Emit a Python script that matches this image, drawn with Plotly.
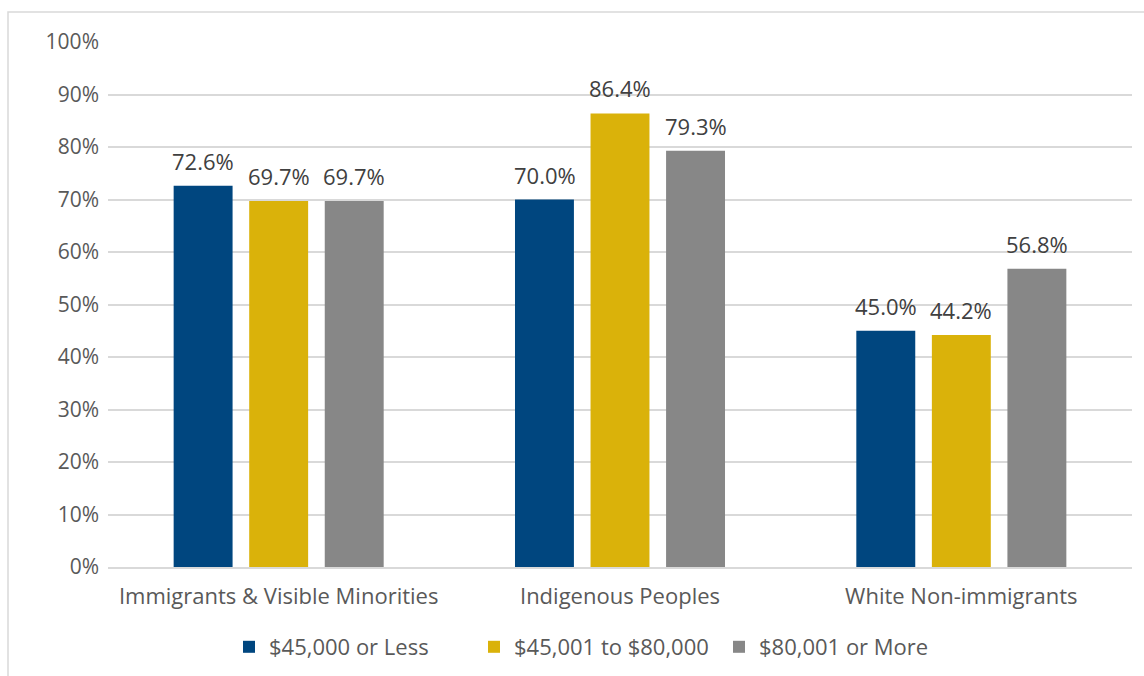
import plotly.graph_objects as go

categories = ["Immigrants & Visible Minorities", "Indigenous Peoples", "White Non-immigrants"]
series_names = ["$45,000 or Less", "$45,001 to $80,000", "$80,001 or More"]
low_income = [0.726, 0.700, 0.450]
mid_income = [0.697, 0.864, 0.442]
high_income = [0.697, 0.793, 0.568]
colors = ["#00467F", "#DAB20A", "#878787"]
tick_vals = [0, 0.1, 0.2, 0.3, 0.4, 0.5, 0.6, 0.7, 0.8, 0.9, 1.0]

FONT = "Open Sans, Noto Sans, sans-serif"

fig = go.Figure()
for name, vals, col in zip(series_names, [low_income, mid_income, high_income], colors):
    fig.add_trace(go.Bar(
        x=categories, y=vals, name=name,
        marker=dict(color=col, line=dict(width=0)),
        hoverinfo="skip",
    ))

# data labels placed through data coordinates
slot = 75.5
for i, vals in enumerate([low_income, mid_income, high_income]):
    for cat, v in zip(categories, vals):
        fig.add_annotation(x=cat, y=v, xref="x", yref="y", text=f"{v*100:.1f}%",
                           showarrow=False, xanchor="center", yanchor="bottom",
                           xshift=(i - 1) * slot, yshift=8,
                           font=dict(family=FONT, size=22, color="#404040"))

W, H = 1144, 676
ml, mr, mt, mb = 108, 12, 42, 109
pw, ph = W - ml - mr, H - mt - mb

def px_x(p):
    return (p - ml) / pw

def px_y(p):
    return (H - mb - p) / ph

fig.update_layout(
    width=W, height=H,
    margin=dict(l=ml, r=mr, t=mt, b=mb, pad=0),
    paper_bgcolor="white", plot_bgcolor="white",
    barmode="group", bargap=0.336, bargroupgap=0.22,
    font=dict(family=FONT, size=21, color="#595959"),
    xaxis=dict(showgrid=False, showline=True, linecolor="#D9D9D9", linewidth=2,
               automargin=False,
               ticks="", ticklabelstandoff=9, tickfont=dict(size=22, color="#595959")),
    yaxis=dict(range=[0, 1.0], tickvals=tick_vals, tickformat=".0%",
               automargin=False,
               showgrid=True, gridcolor="#D9D9D9", gridwidth=1.5,
               zeroline=False, showline=False, ticks="", ticklen=0,
               ticklabelstandoff=8,
               tickfont=dict(size=21, color="#595959")),
    legend=dict(orientation="h", x=229 / W, xanchor="left", xref="container",
                y=(H - 647) / H, yanchor="middle", yref="container",
                font=dict(size=22, color="#595959"), itemwidth=30, traceorder="normal",
                entrywidth=200, entrywidthmode="pixels"),
    showlegend=True,
    shapes=[dict(type="rect", xref="paper", yref="paper",
                 x0=px_x(8), x1=px_x(1160), y0=px_y(700), y1=px_y(12),
                 line=dict(color="#D9D9D9", width=1.5), fillcolor="rgba(0,0,0,0)", layer="below")],
)

fig.write_html("out.html", config={"displayModeBar": False},
               post_script="document.body.style.margin='0';document.body.style.overflow='hidden';")
